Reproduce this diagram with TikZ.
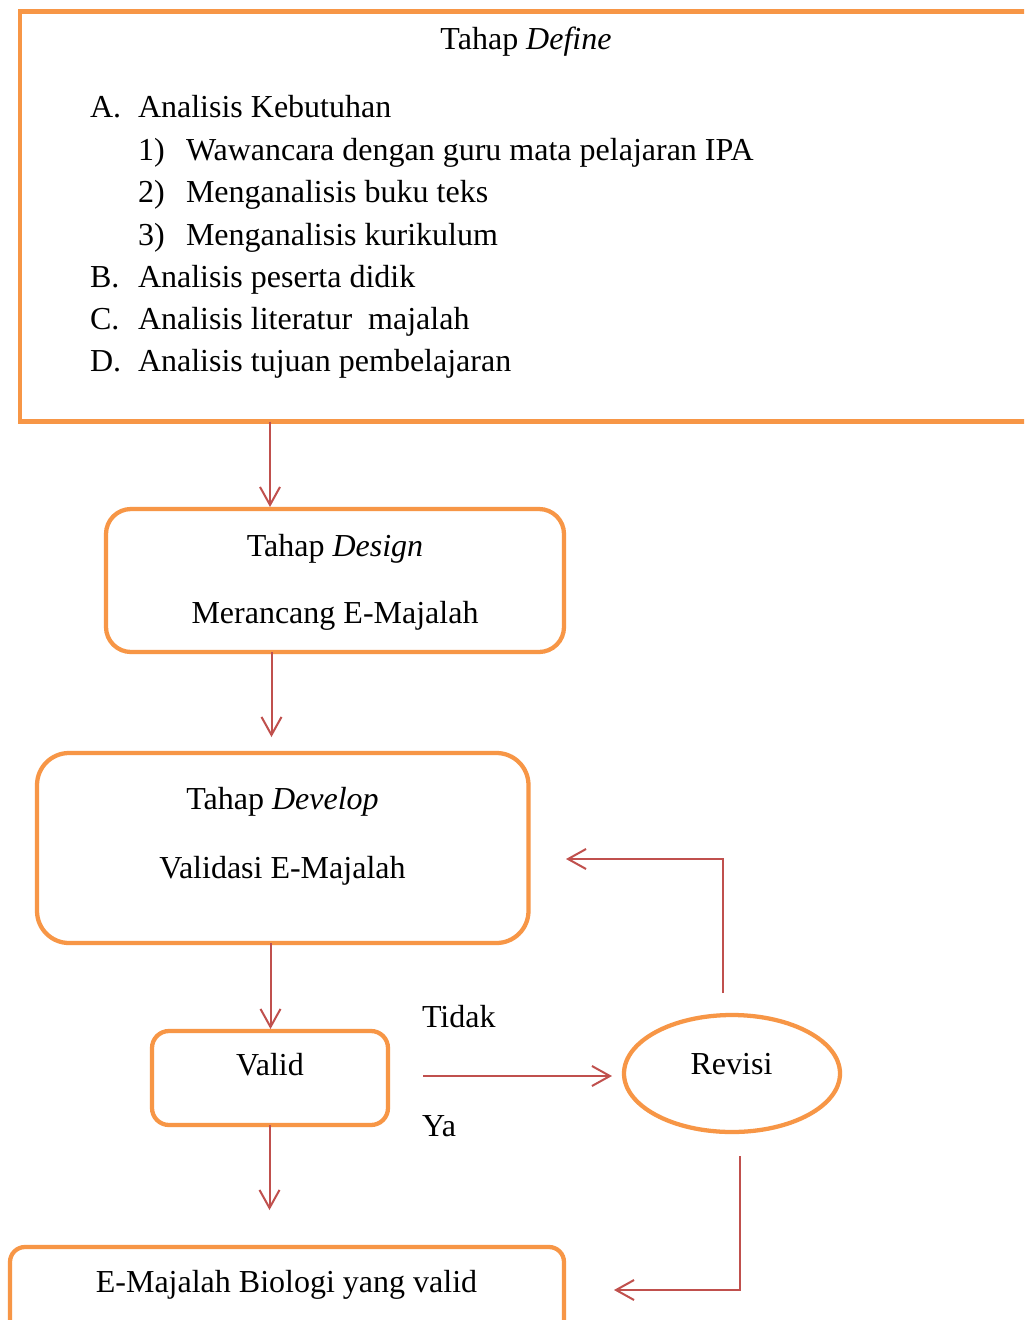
\documentclass[tikz,border=0pt]{standalone}
\usepackage{fontspec}
\setmainfont{Liberation Serif}
\usetikzlibrary{arrows.meta,shapes.geometric}
\definecolor{boxorange}{HTML}{F79646}
\definecolor{arrowred}{HTML}{C0504D}
\tikzset{
  every node/.style={font=\fontsize{24}{29}\selectfont, inner sep=0pt, outer sep=0pt},
  obox/.style={draw=boxorange, line width=3.2pt, rectangle},
  arr/.style={draw=arrowred, line width=1.5pt, -{Straight Barb[length=13.5pt,width=15pt]}},
  conn/.style={draw=arrowred, line width=1.5pt},
  txt/.style={anchor=base},
  lst/.style={anchor=base west}
}
\begin{document}
\begin{tikzpicture}[x=0.75pt,y=-0.75pt]
\useasboundingbox (0,0) rectangle (1024,1320);
\clip (0,0) rectangle (1024,1320);
\fill[white] (0,0) rectangle (1024,1320);

% boxes
\node[obox, minimum width=759.75pt, minimum height=307.5pt] (define) at (526.5,216.5) {};
\node[obox, rounded corners=18.75pt, minimum width=343.5pt, minimum height=107.25pt] (design) at (335,580.5) {};
\node[obox, rounded corners=24pt, minimum width=368.6pt, minimum height=142.5pt] (develop) at (282.75,848) {};
\node[obox, rounded corners=12.75pt, minimum width=177pt, minimum height=70.5pt] (valid) at (270,1078) {};
\node[obox, ellipse, minimum width=162pt, minimum height=87.75pt] (revisi) at (732,1073.5) {};
\node[obox, rounded corners=11.25pt, minimum width=415.5pt, minimum height=114.75pt] (final) at (287,1323.5) {};

% texts
\node[txt] (tdefine) at (526,50) {Tahap \textit{Define}};
\node[lst] (la) at (90,117.5) {A.};
\node[lst] (ta) at (138,117.5) {Analisis Kebutuhan};
\node[lst] (l1) at (138,160) {1)};
\node[lst] (t1) at (186,160) {Wawancara dengan guru mata pelajaran IPA};
\node[lst] (l2) at (138,202.5) {2)};
\node[lst] (t2) at (186,202.5) {Menganalisis buku teks};
\node[lst] (l3) at (138,245) {3)};
\node[lst] (t3) at (186,245) {Menganalisis kurikulum};
\node[lst] (lb) at (90,287) {B.};
\node[lst] (tb) at (138,287) {Analisis peserta didik};
\node[lst] (lc) at (90,329.5) {C.};
\node[lst] (tc) at (138,329.5) {Analisis literatur~ majalah};
\node[lst] (ld) at (90,371.5) {D.};
\node[lst] (td) at (138,371.5) {Analisis tujuan pembelajaran};

\node[txt] (tdesign) at (335,556) {Tahap \textit{Design}};
\node[txt] (tdesign2) at (335,623) {Merancang E-Majalah};
\node[txt] (tdevelop) at (282.5,809) {Tahap \textit{Develop}};
\node[txt] (tdevelop2) at (282.5,878) {Validasi E-Majalah};
\node[txt] (tvalid) at (270,1075) {Valid};
\node[txt] (trevisi) at (731.5,1074) {Revisi};
\node[txt] (tfinal) at (286.5,1292) {E-Majalah Biologi yang valid};
\node[lst] (tidak) at (422,1027) {Tidak};
\node[lst] (ya) at (422,1136) {Ya};

% connector points
\coordinate (x1) at (270,0);
\coordinate (x2) at (271.5,0);
\coordinate (e2) at (271.5,737);
\coordinate (x3) at (270.5,0);
\coordinate (x4) at (269.5,0);
\coordinate (e4) at (269.5,1210);
\coordinate (h1) at (423,1076);
\coordinate (h2) at (612,1076);
\coordinate (r1) at (722.5,993);
\coordinate (c1) at (722.5,859);
\coordinate (u1) at (566,859);
\coordinate (r2) at (740,1156);
\coordinate (c2) at (740,1290);
\coordinate (u2) at (614,1290);

% connectors
\draw[arr, shorten >=1.5pt] (define.south -| x1) -- (design.north -| x1);
\draw[arr] (design.south -| x2) -- (e2);
\draw[arr, shorten >=1.5pt] (develop.south -| x3) -- (valid.north -| x3);
\draw[arr] (valid.south -| x4) -- (e4);
\draw[arr] (h1) -- (h2);
\draw[arr] (r1) -- (c1) -- (u1);
\draw[arr] (r2) -- (c2) -- (u2);
\end{tikzpicture}
\end{document}
